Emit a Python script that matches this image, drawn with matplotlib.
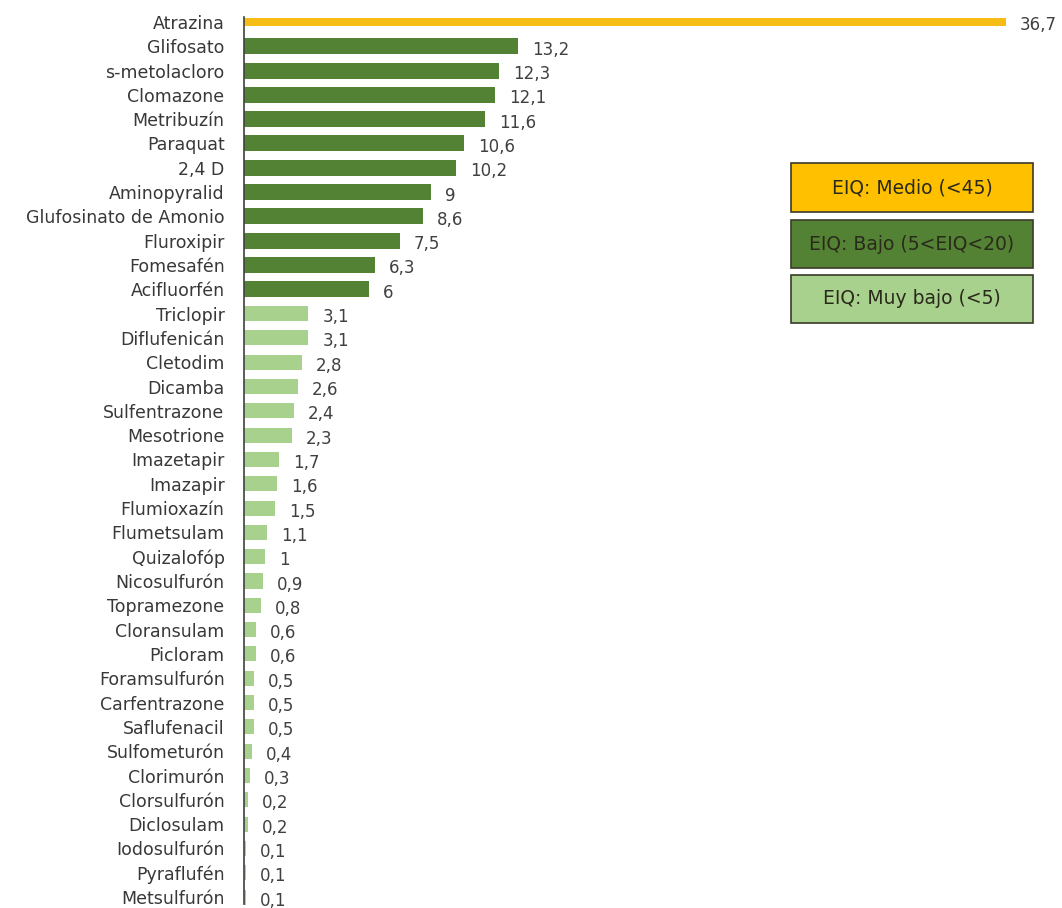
import matplotlib
matplotlib.use("Agg")
import matplotlib.pyplot as plt
from matplotlib.patches import Rectangle

categories = ["Atrazina", "Glifosato", "s-metolacloro", "Clomazone", "Metribuzín", "Paraquat",
              "2,4 D", "Aminopyralid", "Glufosinato de Amonio", "Fluroxipir", "Fomesafén",
              "Acifluorfén", "Triclopir", "Diflufenicán", "Cletodim", "Dicamba", "Sulfentrazone",
              "Mesotrione", "Imazetapir", "Imazapir", "Flumioxazín", "Flumetsulam", "Quizalofóp",
              "Nicosulfurón", "Topramezone", "Cloransulam", "Picloram", "Foramsulfurón",
              "Carfentrazone", "Saflufenacil", "Sulfometurón", "Clorimurón", "Clorsulfurón",
              "Diclosulam", "Iodosulfurón", "Pyraflufén", "Metsulfurón"]
values = [36.7, 13.2, 12.3, 12.1, 11.6, 10.6, 10.2, 9, 8.6, 7.5, 6.3, 6, 3.1, 3.1, 2.8, 2.6,
          2.4, 2.3, 1.7, 1.6, 1.5, 1.1, 1, 0.9, 0.8, 0.6, 0.6, 0.5, 0.5, 0.5, 0.4, 0.3, 0.2,
          0.2, 0.1, 0.1, 0.1]
groups = ["Medio"] + ["Bajo"] * 11 + ["Muy bajo"] * 25
legend_labels = ["EIQ: Medio (<45)", "EIQ: Bajo (5<EIQ<20)", "EIQ: Muy bajo (<5)"]

colors = {"Medio": "#F6BD16", "Bajo": "#548235", "Muy bajo": "#A9D18E"}
heights = {"Medio": 0.33, "Bajo": 0.66, "Muy bajo": 0.62}
legend_colors = ["#FFC000", "#548235", "#A9D18E"]

W, H = 1062, 908
fig = plt.figure(figsize=(W / 100, H / 100), dpi=100)
font = "DejaVu Sans"
ax = fig.add_axes([244 / W, 0.0, 1 - 244 / W, 1 - 10 / H])

ypos = list(range(len(categories)))
for y, v, g in zip(ypos, values, groups):
    ax.barh(y, v, height=heights[g], color=colors[g], edgecolor="none")
    ax.annotate(f"{v:g}".replace(".", ","), xy=(v, y), xytext=(10, -2.5),
                textcoords="offset points", va="center", ha="left",
                fontsize=12, color="#404040", family=font)

ax.set_yticks(ypos)
ax.set_yticklabels(categories, fontsize=12.5, color="#383838", family=font)
ax.tick_params(axis="y", length=0, pad=14)
ax.set_xticks([])
ax.set_xlim(0, 39.4)
ax.set_ylim(36.45, -0.49)
for s in ["top", "right", "bottom"]:
    ax.spines[s].set_visible(False)
ax.spines["left"].set_color("#404040")
ax.spines["left"].set_linewidth(1.2)
ax.spines["left"].set_bounds(36.3, -0.2)

boxes = [(791, 163, 242, 49), (791, 220, 242, 48), (791, 275, 242, 48)]
for (x0, y0, w, h), lab, c in zip(boxes, legend_labels, legend_colors):
    fig.add_artist(Rectangle((x0 / W, 1 - (y0 + h) / H), w / W, h / H,
                             transform=fig.transFigure, facecolor=c,
                             edgecolor="#3a3a2a", linewidth=1.2))
    fig.text((x0 + w / 2) / W, 1 - (y0 + h / 2) / H, lab, ha="center", va="center",
             fontsize=13.5, color="#2a2a1a", family=font)

fig.savefig("out.png", dpi=100)
